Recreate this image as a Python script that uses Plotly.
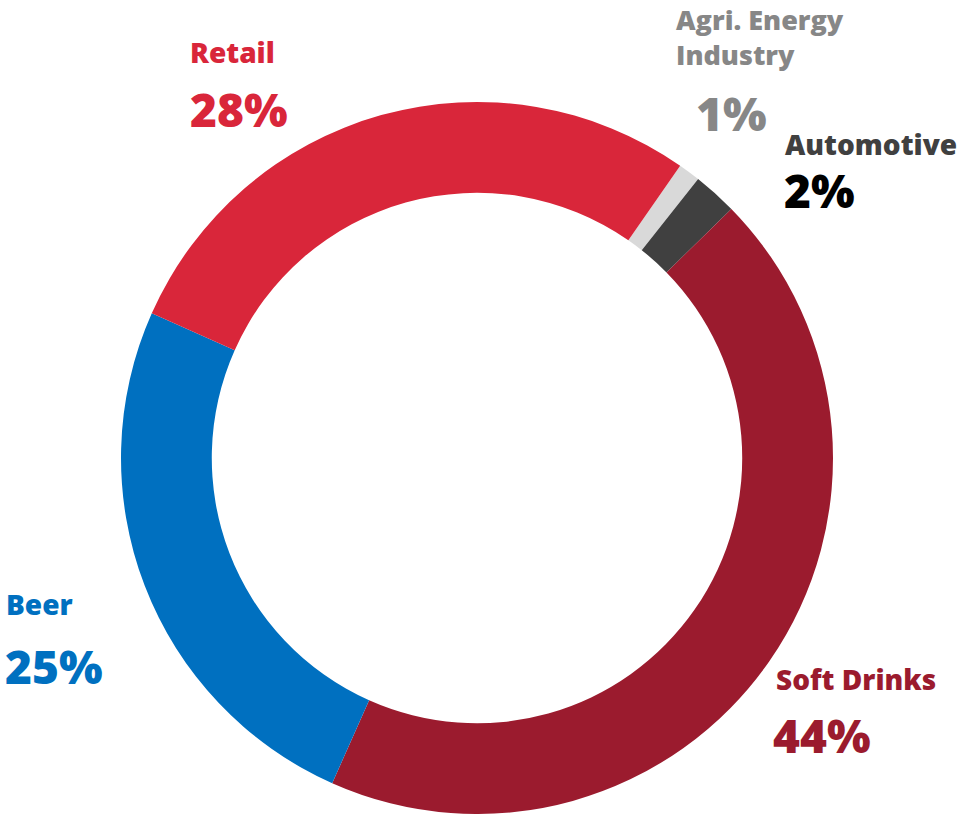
import plotly.graph_objects as go

W, H = 967, 814

# Revenue share by segment (%)
segments = ["Agri. Energy Industry", "Automotive", "Soft Drinks", "Beer", "Retail"]
shares = [1, 2, 44, 25, 28]
slice_colors = ["#D9D9D9", "#404040", "#9B1B2E", "#0070C0", "#D9263A"]

# Label text, colours and placement (pixel anchor: left edge, vertical middle)
name_texts = ["Agri. Energy<br>Industry", "Automotive", "Soft Drinks", "Beer", "Retail"]
name_colors = ["#878787", "#404040", "#9B1B2E", "#0070C0", "#D9263A"]
name_sizes = [27, 28, 28, 28, 28]
pct_colors = ["#878787", "#000000", "#9B1B2E", "#0070C0", "#D9263A"]
name_pos = [(675, 37), (784, 144), (775, 679), (5, 604), (189, 52)]
pct_pos = [(695, 113), (783, 190), (772, 735), (4, 666), (189, 109)]

FONT = "Open Sans"


def px_x(x):
    return x / W


def px_y(y):
    return 1 - y / H


fig = go.Figure(
    go.Pie(
        labels=segments,
        values=shares,
        hole=0.745,
        sort=False,
        direction="clockwise",
        rotation=34.8,
        marker=dict(colors=slice_colors, line=dict(width=0)),
        textinfo="none",
        hoverinfo="label+percent",
        showlegend=False,
        domain=dict(x=[(477 - 356) / W, (477 + 356) / W], y=[0, 712 / H]),
    )
)

annotations = []
for text, col, size, (x, y) in zip(name_texts, name_colors, name_sizes, name_pos):
    annotations.append(
        dict(
            text=text, x=px_x(x), y=px_y(y), xref="paper", yref="paper",
            xanchor="left", yanchor="middle", align="left", showarrow=False,
            borderpad=0,
            font=dict(family=FONT, size=size, color=col, weight=800),
        )
    )
for v, col, (x, y) in zip(shares, pct_colors, pct_pos):
    annotations.append(
        dict(
            text=f"{v}%", x=px_x(x), y=px_y(y), xref="paper", yref="paper",
            xanchor="left", yanchor="middle", showarrow=False, borderpad=0,
            font=dict(family=FONT, size=46, color=col, weight=800),
        )
    )

fig.update_layout(
    width=W, height=H,
    margin=dict(l=0, r=0, t=0, b=0),
    paper_bgcolor="white", plot_bgcolor="white",
    annotations=annotations,
)

fig.write_html("out.html")
